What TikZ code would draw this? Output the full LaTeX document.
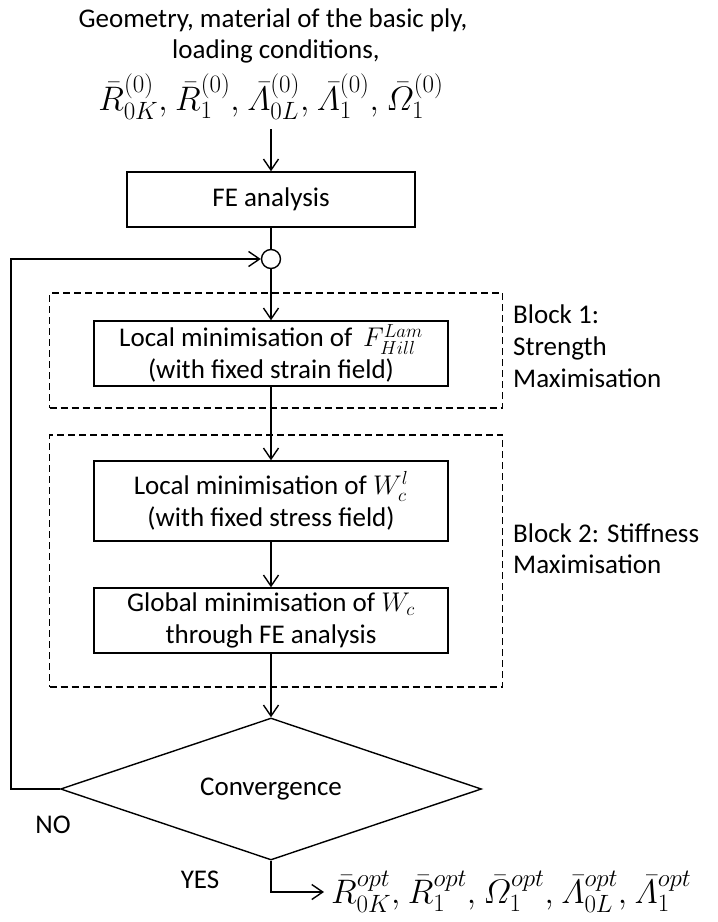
\RequirePackage{fix-cm}
\documentclass[tikz,border=0pt]{standalone}
\usepackage{amsmath}
\usepackage{fontspec}
\setmainfont{Carlito}
\DeclareMathSizes{34}{34}{25}{19}
\usetikzlibrary{arrows.meta,shapes.geometric}
\tikzset{
  txt/.style={inner sep=0pt, font=\fontsize{27}{32}\selectfont, align=center},
  mth/.style={inner sep=0pt, font=\fontsize{34}{38}\selectfont},
  procbox/.style={draw, line width=1.4pt, rectangle, inner sep=0pt, align=center,
    font=\fontsize{27}{32}\selectfont},
  dashbox/.style={draw, line width=1.4pt, dash pattern=on 7pt off 4pt, rectangle, inner sep=0pt},
  arr/.style={line width=1.4pt, -{Straight Barb[length=11pt,width=15pt,line width=1.4pt]}},
  ln/.style={line width=1.4pt},
}
\newcommand{\sepc}{,\mkern1mu}
\begin{document}
\begin{tikzpicture}[x=1pt,y=-1pt]
\useasboundingbox (0,0) rectangle (718,922);
\node[txt, anchor=base] (in1) at (273,27) {Geometry, material of the basic ply,};
\node[txt, anchor=base] (in2) at (276,58) {loading conditions,};
\node[mth, anchor=base] (in3) at (271,110) {$\bar{R}^{(0)}_{0K}\sepc\bar{R}^{(0)}_{1}\sepc\bar{\varLambda}^{(0)}_{0L}\sepc\bar{\varLambda}^{(0)}_{1}\sepc\bar{\varOmega}^{(0)}_{1}$};
\coordinate (a0) at (271,129);
\node[procbox, minimum width=288pt, minimum height=55pt] (fe) at (271,199.5) {FE analysis};
\node[draw, ln, circle, minimum size=19pt, inner sep=0pt] (circ) at (271,259) {};
\node[dashbox, minimum width=453pt, minimum height=115pt] (blk1) at (276,350.5) {};
\node[procbox, minimum width=354pt, minimum height=65pt] (b1) at (271,353.5) {Local minimisation of \,$F^{Lam}_{Hill}$\\(with fixed strain field)};
\node[dashbox, minimum width=453pt, minimum height=252pt] (blk2) at (276,561) {};
\node[procbox, minimum width=354pt, minimum height=80pt] (b2) at (271,501) {Local minimisation of $W^{l}_{c}$\\(with fixed stress field)};
\node[procbox, minimum width=354pt, minimum height=65pt] (b3) at (271,620.5) {Global minimisation of $W_{c}$\\through FE analysis};
\node[draw, ln, diamond, shape aspect=3, inner sep=0pt, minimum width=421pt, minimum height=142pt,
  font=\fontsize{27}{32}\selectfont] (dia) at (271,789) {Convergence};
\node[txt, anchor=base west] (l1a) at (513,323) {Block 1:};
\node[txt, anchor=base west] (l1b) at (513,355) {Strength};
\node[txt, anchor=base west] (l1c) at (513,387) {Maximisation};
\node[txt, anchor=base west] (l2a) at (513,542) {Block 2: Stiffness};
\node[txt, anchor=base west] (l2b) at (513,573) {Maximisation};
\node[txt, anchor=base] (no) at (53,833) {NO};
\node[txt, anchor=base] (yes) at (200,888) {YES};
\coordinate (oute) at (324,892);
\node[mth, anchor=base west] (out) at (331,903) {$\bar{R}^{opt}_{0K}\sepc\bar{R}^{opt}_{1}\sepc\bar{\varOmega}^{opt}_{1}\sepc\bar{\varLambda}^{opt}_{0L}\sepc\bar{\varLambda}^{opt}_{1}$};
\draw[arr] (a0) -- (fe.north);
\draw[ln] (fe.south) -- (circ.north);
\draw[arr] (circ.south) -- (b1.north);
\draw[arr] (b1.south) -- (b2.north);
\draw[arr] (b2.south) -- (b3.north);
\draw[arr] (b3.south) -- (dia.north);
\draw[arr] (dia.west) -- ++(-49,0) |- (circ.west);
\draw[arr] (dia.south) |- (oute);
\end{tikzpicture}
\end{document}
